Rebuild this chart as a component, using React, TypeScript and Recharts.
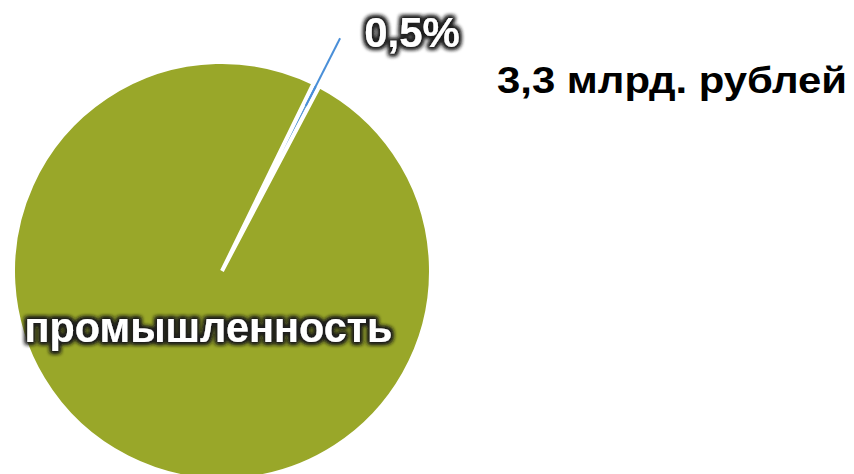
import { Cell, Pie, PieChart } from "recharts";

const SECTORS = ["прочее", "промышленность"];
const SHARES = [0.5, 99.5];
const SLICE_LABELS = ["0,5%", "промышленность"];
const TOTAL_LABEL = "3,3 млрд. рублей";

const COLORS = ["#5b9bd5", "#99a729"];
const RAD = Math.PI / 180;
const FONT = "'Liberation Sans', Arial, sans-serif";

const data = SECTORS.map((name, i) => ({ name, value: SHARES[i], label: SLICE_LABELS[i] }));

function renderLabel(props: any) {
  const { cx, cy, midAngle, index } = props;
  const textStyle = {
    fontFamily: FONT,
    fontWeight: 700,
    fill: "#ffffff",
    filter: "url(#darkGlow)",
  };
  if (index === 0) {
    const cos = Math.cos(-midAngle * RAD);
    const sin = Math.sin(-midAngle * RAD);
    return (
      <g key="small">
        <line
          x1={cx + 185 * cos}
          y1={cy + 185 * sin}
          x2={cx + 261 * cos}
          y2={cy + 261 * sin}
          stroke="#4a8fd8"
          strokeWidth={2}
        />
        <text x={cx + 190} y={cy - 224} textAnchor="middle" fontSize={42} style={textStyle}>
          {data[index].label}
        </text>
      </g>
    );
  }
  return (
    <text
      key="big"
      x={cx - 13.5}
      y={cy + 71}
      textAnchor="middle"
      fontSize={42}
      textLength={368}
      lengthAdjust="spacingAndGlyphs"
      style={textStyle}
    >
      {data[index].label}
    </text>
  );
}

export default function App() {
  return (
    <div style={{ position: "absolute", left: 0, top: 0, width: 854, height: 474, background: "#fff", overflow: "hidden" }}>
      <svg width={854} height={474} style={{ position: "absolute", left: 0, top: 0, pointerEvents: "none", zIndex: 1 }}>
        <defs>
          <filter id="darkGlow" x="-20%" y="-40%" width="140%" height="180%">
            <feMorphology in="SourceAlpha" operator="dilate" radius={1.5} result="dil" />
            <feGaussianBlur in="dil" stdDeviation={2} result="blur" />
            <feFlood floodColor="#1e1e1e" />
            <feComposite in2="blur" operator="in" result="shadow" />
            <feMerge>
              <feMergeNode in="shadow" />
              <feMergeNode in="shadow" />
              <feMergeNode in="SourceGraphic" />
            </feMerge>
          </filter>
        </defs>
        <text
          x={497}
          y={93}
          fontFamily={FONT}
          fontWeight={700}
          fontSize={36}
          fill="#000"
          textLength={350}
          lengthAdjust="spacingAndGlyphs"
        >
          {TOTAL_LABEL}
        </text>
      </svg>
      <PieChart width={854} height={474} margin={{ top: 0, right: 0, bottom: 0, left: 0 }}>
        <Pie
          data={data}
          dataKey="value"
          nameKey="name"
          cx={222}
          cy={271}
          outerRadius={209}
          startAngle={64}
          endAngle={-296}
          stroke="#ffffff"
          strokeWidth={4}
          label={renderLabel}
          labelLine={false}
          isAnimationActive={false}
        >
          {data.map((d, i) => (
            <Cell key={d.name} fill={COLORS[i]} />
          ))}
        </Pie>
      </PieChart>
    </div>
  );
}
